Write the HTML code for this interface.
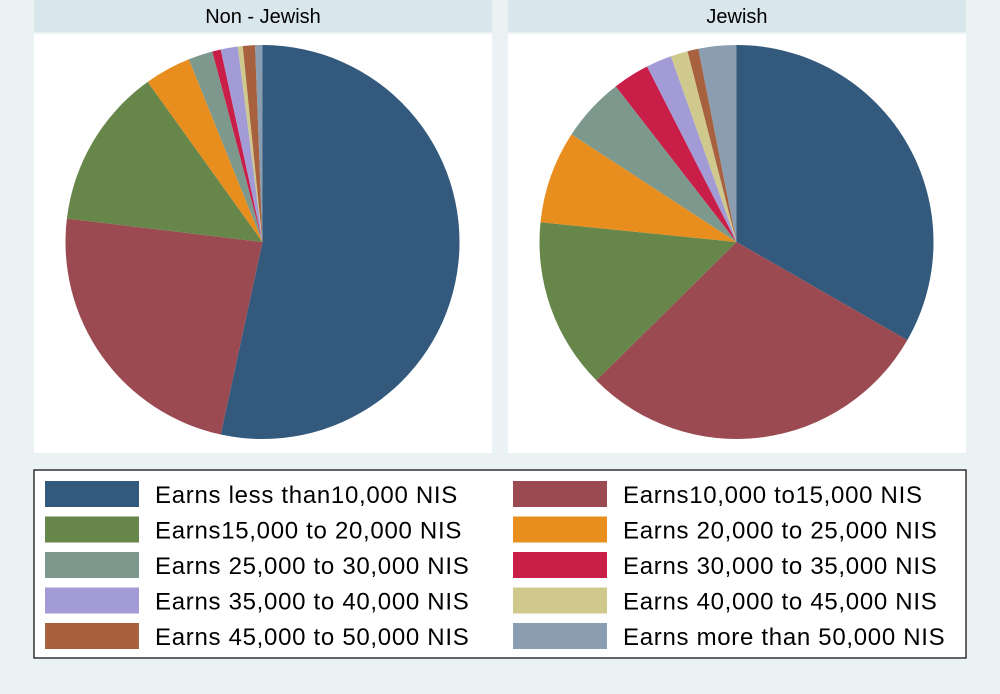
<!DOCTYPE html>
<html><head><meta charset="utf-8"><style>
body{margin:0;background:#eaf2f3;font-family:"Liberation Sans",sans-serif;}
svg{display:block}
</style></head><body>
<svg width="1000" height="694">
<rect x="0" y="0" width="1000" height="694" fill="#eaf2f3"/>
<g id="panels"></g>
<rect x="34" y="470" width="932" height="188" fill="#fff" stroke="#000" stroke-width="1.2"/>
<g id="legend"></g>
</svg>
<script>
const categories=["Earns less than10,000 NIS","Earns10,000 to15,000 NIS","Earns15,000 to 20,000 NIS","Earns 20,000 to 25,000 NIS","Earns 25,000 to 30,000 NIS","Earns 30,000 to 35,000 NIS","Earns 35,000 to 40,000 NIS","Earns 40,000 to 45,000 NIS","Earns 45,000 to 50,000 NIS","Earns more than 50,000 NIS"];
const colors=["#335a7c","#9a4a50","#66864a","#e88e1e","#7d998d","#c81e48","#a29bd6","#d0c98e","#a7613e","#8a9db1"];
const panelTitles=["Non - Jewish","Jewish"];
const nonJewish=[53.4,23.5,13.2,3.8,2.0,0.7,1.4,0.4,1.0,0.6];
const jewish=[33.3,29.3,14.0,7.6,5.3,3.0,2.1,1.4,0.9,3.1];
const series=[nonJewish,jewish];
const NS="http://www.w3.org/2000/svg";
function mk(t,a,p){const e=document.createElementNS(NS,t);for(const k in a)e.setAttribute(k,a[k]);p.appendChild(e);return e;}
const panels=document.getElementById('panels');
const px=[34,508];
series.forEach((vals,pi)=>{
  const x0=px[pi],w=458;
  const h=mk('rect',{x:x0,y:0,width:w,height:32,fill:'#d9e6ec'},panels);
  
  
  const bg=mk('rect',{x:x0,y:34,width:w,height:419,fill:'#fff'},panels);
  
  
  const t=mk('text',{x:x0+w/2,y:23,'text-anchor':'middle','font-size':'20',fill:'#000'},panels);
  t.textContent=panelTitles[pi];
  
  
  const cx=x0+228.5,cy=242,r=197;
  const total=vals.reduce((a,b)=>a+b,0);
  let acc=0;
  vals.forEach((v,i)=>{
    const a0=acc/total*2*Math.PI;acc+=v;const a1=acc/total*2*Math.PI;
    const x1=cx+r*Math.sin(a0),y1=cy-r*Math.cos(a0),x2=cx+r*Math.sin(a1),y2=cy-r*Math.cos(a1);
    const large=(a1-a0)>Math.PI?1:0;
    const p=mk('path',{d:`M${cx},${cy}L${x1},${y1}A${r},${r} 0 ${large} 1 ${x2},${y2}Z`,fill:colors[i]},panels);
    
    
  });
});
const lg=document.getElementById('legend');
categories.forEach((c,i)=>{
  const col=i%2,row=Math.floor(i/2);
  const sx=col?513:45,y=481+row*35.5;
  const s=mk('rect',{x:sx,y:y,width:94,height:26,fill:colors[i]},lg);
  
  
  const t=mk('text',{x:sx+110,y:y+22,'font-size':'24','letter-spacing':'0.7',fill:'#000'},lg);
  t.textContent=c;
  
  
});
</script>
</body></html>
